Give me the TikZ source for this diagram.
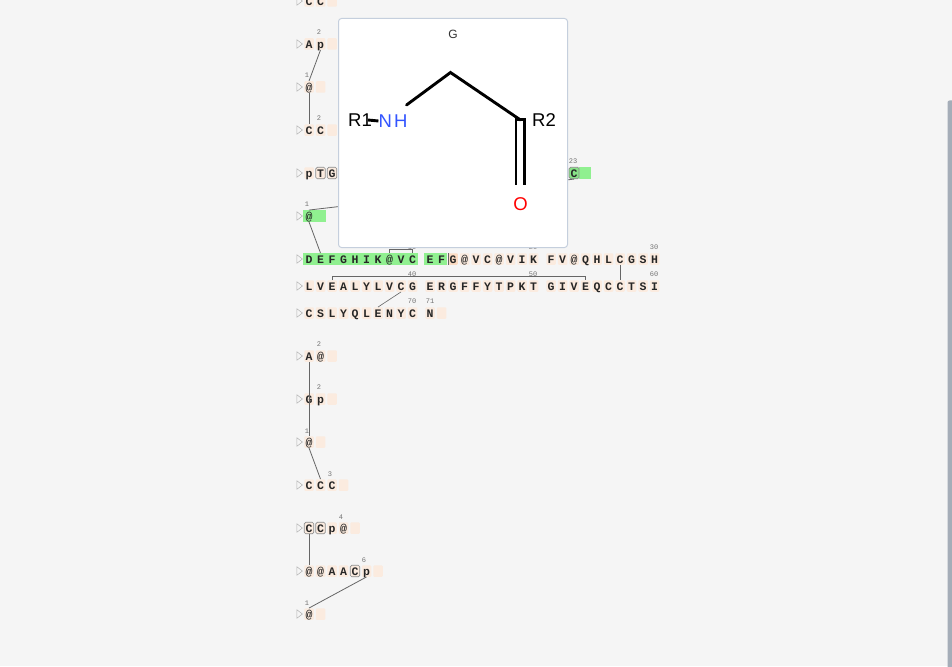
\documentclass[tikz,border=0pt]{standalone}
\usepackage{fontspec}
\setmainfont{Liberation Sans}
\setmonofont{Liberation Mono}
\usetikzlibrary{shapes.geometric}
\definecolor{pageBg}{HTML}{F5F5F5}
\definecolor{cellBg}{HTML}{FBEBDF}
\definecolor{hitBg}{HTML}{90F090}
\definecolor{lastBg}{HTML}{FBDCC4}
\definecolor{linkGray}{HTML}{666666}
\definecolor{cardLine}{HTML}{C5CFDD}
\definecolor{barGray}{HTML}{A5ADB8}
\definecolor{nhBlue}{HTML}{3355FF}

% one row of residues: name, y, letter/kind list
\newcommand{\seqrow}[3]{%
	\node[arrowmark] (#1t) at (299,#2) {};
	\foreach \ch/\kind [count=\i] in {#3}{%
		\pgfmathsetmacro{\xpos}{309+(\i-1)*11.5+6*floor((\i-1)/10)}
		\node[res,kind-\kind/.try] (#1c\i) at (\xpos,#2) {\ch};
	}%
}
% position numbers
\newcommand{\posmark}[4]{\node[posnum] (#1) at (#2,#3) {#4};}

\tikzset{
	kind-hit/.style={fill=hitBg,rounded corners=0pt,minimum width=11.6pt},
	kind-box/.style={draw=black!45,rounded corners=1.5pt,line width=0.7pt},
	kind-last/.style={fill=lastBg},
	kind-hitbox/.style={fill=hitBg!94!black,draw=black!45,rounded corners=1.5pt,line width=0.7pt},
}

\begin{document}
\begin{tikzpicture}[x=1pt,y=-1pt,
	res/.style={fill=cellBg,rounded corners=1pt,minimum width=9.5pt,minimum height=11.5pt,inner sep=0pt,text height=9pt,text depth=0.4pt,text=black!85,font=\ttfamily\bfseries\fontsize{11.5}{11.5}\selectfont},
	posnum/.style={inner sep=0pt,text=black!55,font=\ttfamily\fontsize{7}{7}\selectfont},
	arrowmark/.style={isosceles triangle,isosceles triangle apex angle=75,draw=black!30,line width=0.5pt,inner sep=0pt,minimum height=5.5pt,minimum width=7.5pt},
	link/.style={draw=linkGray,line width=0.8pt},
	bond/.style={line width=2.9pt,line cap=round},
	atom/.style={inner sep=0pt,font=\fontsize{18.5}{18.5}\selectfont}]
	\useasboundingbox (0,0) rectangle (952,666);
	\fill[pageBg] (0,0) rectangle (952,666);

	\seqrow{a}{1}{C/,C/,{}/}
	\seqrow{b}{44}{A/,p/,{}/}
	\seqrow{c}{87}{@/,{}/}
	\seqrow{d}{130}{C/,C/,{}/}
	\seqrow{e}{173}{p/,T/box,G/box}
	\node[res,kind-hit] (ec24) at (585,173) {};
	\node[res,kind-hitbox,minimum width=10pt] (ec23) at (574,173) {C};
	\seqrow{f}{216}{@/hit,{}/hit}
	\seqrow{g}{259}{D/hit,E/hit,F/hit,G/hit,H/hit,I/hit,K/hit,@/hit,V/hit,C/hit,E/hit,F/hit,G/last,@/,V/,C/,@/,V/,I/,K/,F/,V/,@/,Q/,H/,L/,C/,G/,S/,H/}
	\seqrow{h}{286}{L/,V/,E/,A/,L/,Y/,L/,V/,C/,G/,E/,R/,G/,F/,F/,Y/,T/,P/,K/,T/,G/,I/,V/,E/,Q/,C/,C/,T/,S/,I/}
	\seqrow{i}{313}{C/,S/,L/,Y/,Q/,L/,E/,N/,Y/,C/,N/,{}/}
	\seqrow{j}{356}{A/,@/,{}/}
	\seqrow{k}{399}{G/,p/,{}/}
	\seqrow{l}{442}{@/,{}/}
	\seqrow{m}{485}{C/,C/,C/,{}/}
	\seqrow{n}{528}{C/box,C/box,p/,@/,{}/}
	\seqrow{o}{571}{@/,@/,A/,A/,C/box,p/,{}/}
	\seqrow{p}{614}{@/,{}/}

	\posmark{nb}{319}{32}{2}
	\posmark{nc}{307}{75}{1}
	\posmark{nd}{319}{118}{2}
	\posmark{ne}{573}{161}{23}
	\posmark{nf}{307}{204}{1}
	\posmark{ngA}{412}{247}{10}
	\posmark{ngB}{533}{247}{20}
	\posmark{ngC}{654}{247}{30}
	\posmark{nhA}{412}{274}{40}
	\posmark{nhB}{533}{274}{50}
	\posmark{nhC}{654}{274}{60}
	\posmark{niA}{412}{301}{70}
	\posmark{niB}{430}{301}{71}
	\posmark{nj}{319}{344}{2}
	\posmark{nk}{319}{387}{2}
	\posmark{nl}{307}{431}{1}
	\posmark{nm}{330}{474}{3}
	\posmark{nn}{341}{517}{4}
	\posmark{no}{364}{560}{6}
	\posmark{np}{307}{603}{1}

	\draw[link] (bc2.south) -- (cc1.north);
	\draw[link] (cc1.south) -- (dc1.north);
	\draw[link] (fc1.north) -- (ec23.south);
	\draw[link] (fc1.south) -- (gc2.north);
	\draw[link,line width=0.6pt] (gc8.north) -- ++(0,-4) -| (gc10.north);
	\draw[link,line width=0.6pt] (hc3.north) -- ++(0,-3.5) -| (hc24.north);
	\draw[link] (gc27.south) -- (hc27.north);
	\draw[link,line width=0.6pt] (hc9.south) -- (ic7.north);
	\draw[link] (jc1.south) -- (lc1.north);
	\draw[link] (kc1.south) -- (lc1.north);
	\draw[link] (lc1.south) -- (mc2.north);
	\draw[link,line width=1pt] (nc1.south) -- (oc1.north);
	\draw[link] (oc6.south) -- (pc1.north);
	\draw[linkGray,line width=0.6pt] (gc13.north west) -- (gc13.south west);

	% popup
	\node[fill=white,draw=cardLine,line width=1pt,rounded corners=3pt,minimum size=229pt,inner sep=0pt] (card) at (453,133) {};
	\node[inner sep=0pt,text=black!80,font=\fontsize{12}{12}\selectfont] (title) at (453,34.5) {G};
	\node[atom] (rone) at (360,120) {R1};
	\node[atom,text=nhBlue] (nh) at (393,121) {N\kern2pt H};
	\node[atom] (rtwo) at (544,120) {R2};
	\node[atom,text=red] (oxy) at (520.5,204) {O};
	\coordinate (nhend) at (406.5,105);
	\coordinate (calpha) at (450.5,72.5);
	\coordinate (carbon) at (520.5,120);
	\coordinate (cleft) at (516,119.5);
	\coordinate (cright) at (524.7,119.5);
	\coordinate (dleft) at (516,184.7);
	\coordinate (dright) at (524.7,184.7);
	\draw[bond,line cap=butt] (rone.east) ++(-4,0) -- (nh.west);
	\draw[bond] (nhend) -- (calpha) -- (carbon);
	\draw[bond,line cap=butt] (dleft) -- (cleft) -- (cright) -- (dright);

	% scrollbar
	\fill[barGray,rounded corners=2pt] (947.5,100.5) rectangle (956,672);
\end{tikzpicture}
\end{document}
